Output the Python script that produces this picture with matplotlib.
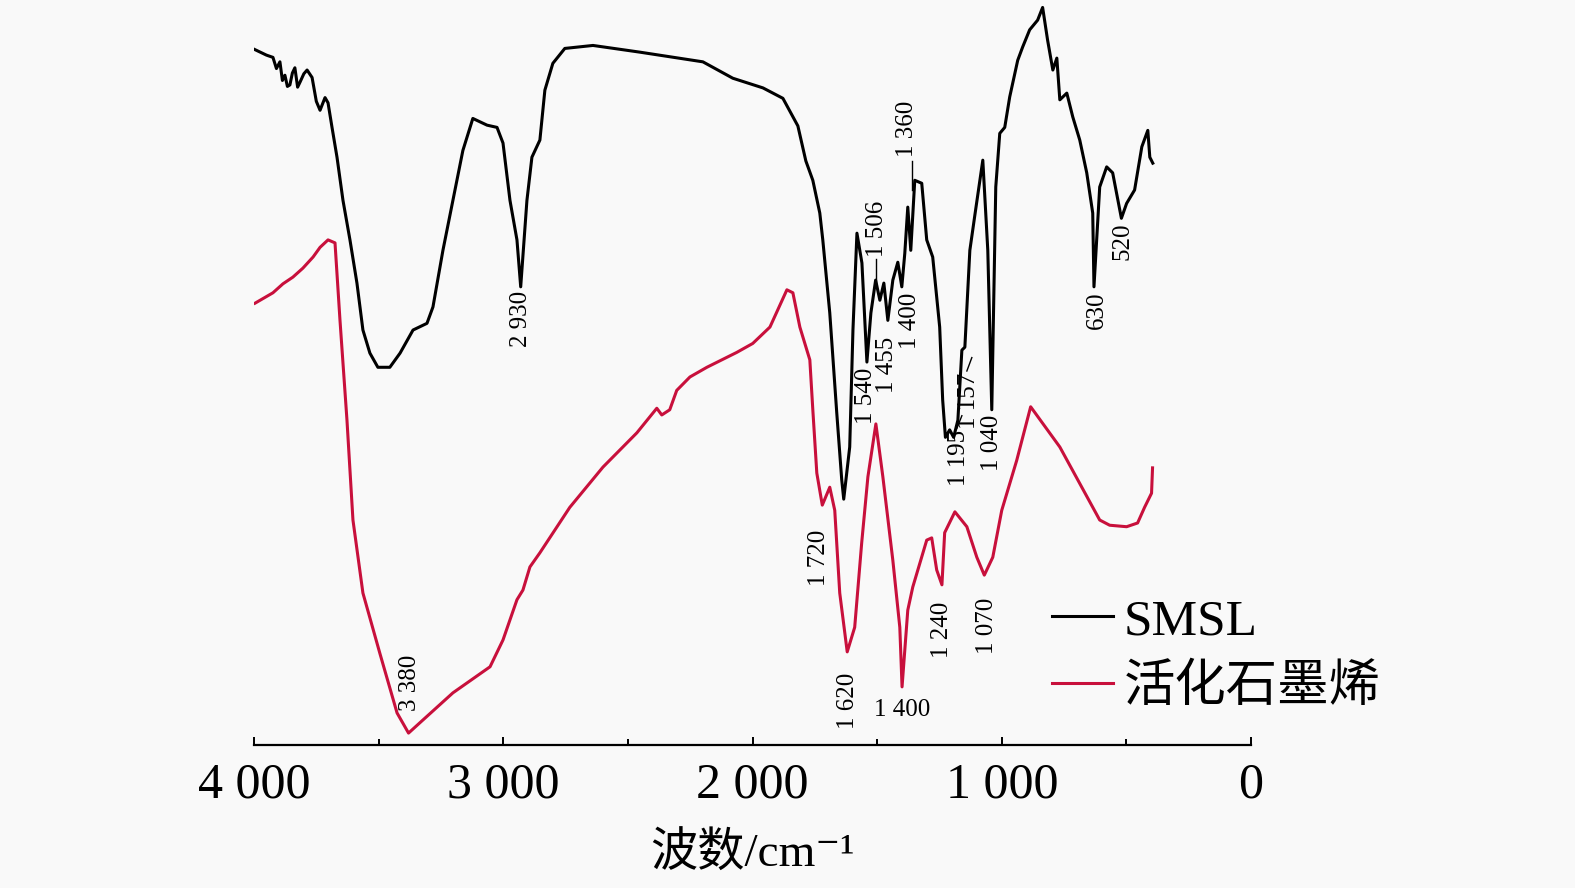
import matplotlib
matplotlib.use('Agg')
import matplotlib.pyplot as plt
from matplotlib.ticker import FuncFormatter, MultipleLocator

# SMSL spectrum: wavenumber (cm-1) and transmittance (a.u.)
smsl_wn = [4000, 3950, 3924, 3910, 3896, 3886, 3876, 3866, 3856, 3846,
           3836, 3825, 3815, 3800, 3787, 3767, 3750, 3735, 3715, 3703,
           3687, 3667, 3643, 3615, 3587, 3563, 3535, 3503,
           3455, 3414, 3362, 3306, 3282, 3242, 3202, 3162, 3122, 3065,
           3025, 3001, 2973, 2945, 2930, 2905, 2885, 2853, 2833, 2801,
           2753, 2640, 2452, 2199, 2079, 1958, 1878, 1818, 1786, 1758,
           1730, 1718, 1690, 1662, 1642, 1634, 1610, 1597, 1581, 1561,
           1541, 1525, 1506, 1489, 1473, 1457, 1437, 1417, 1401, 1389,
           1377, 1365, 1349, 1321, 1301, 1277, 1249, 1237, 1226, 1209,
           1193, 1176, 1160, 1148, 1128, 1108, 1076, 1056, 1040, 1024,
           1008, 988, 968, 936, 916, 888, 856, 836, 816, 795,
           779, 767, 739, 715, 687, 659, 635, 630, 607, 579,
           555, 520, 499, 467, 438, 414, 406, 394]
smsl_t = [93.4, 92.6, 92.3, 90.8, 91.7, 89.2, 89.9, 88.4, 88.6, 90.2,
          90.9, 88.3, 89.0, 90.1, 90.6, 89.6, 86.4, 85.2, 86.9, 86.2,
          82.9, 78.9, 73.1, 67.8, 62.0, 55.7, 52.6, 50.7,
          50.7, 52.6, 55.7, 56.6, 58.8, 66.4, 73.1, 79.8, 84.1, 83.2,
          82.9, 80.8, 73.1, 67.8, 61.5, 73.1, 78.9, 81.2, 87.9, 91.5,
          93.5, 93.9, 93.0, 91.7, 89.5, 88.2, 86.8, 83.1, 78.4, 75.8,
          71.4, 67.8, 58.0, 44.6, 35.6, 33.0, 40.0, 55.7, 68.7, 64.7,
          51.4, 58.0, 62.4, 59.7, 62.0, 57.0, 62.4, 64.8, 61.5, 66.0,
          72.2, 66.4, 75.8, 75.4, 67.8, 65.5, 56.1, 46.3, 41.3, 42.3,
          41.3, 43.6, 53.0, 53.4, 66.4, 71.1, 78.5, 66.4, 45.0, 74.9,
          82.1, 82.9, 87.0, 91.9, 93.7, 96.0, 97.3, 99.0, 94.6, 90.6,
          92.2, 86.6, 87.5, 84.3, 81.2, 76.8, 71.4, 61.5, 74.9, 77.6,
          76.8, 70.7, 72.7, 74.5, 80.3, 82.5, 78.9, 78.1]

# activated graphene spectrum
gr_wn = [3996, 3960, 3924, 3884, 3844, 3804, 3763, 3735, 3703, 3675,
         3655, 3627, 3603, 3563, 3495, 3426, 3380, 3334, 3202, 3053,
         3001, 2945, 2921, 2893, 2853, 2733, 2600, 2464, 2384, 2364,
         2332, 2304, 2251, 2183, 2063, 1999, 1930, 1862, 1838, 1810,
         1770, 1758, 1742, 1720, 1690, 1670, 1650, 1620, 1590, 1562,
         1537, 1505, 1477, 1437, 1409, 1400, 1377, 1357, 1301, 1281,
         1261, 1240, 1229, 1188, 1140, 1100, 1070, 1036, 1000, 940,
         884, 767, 607, 567, 499, 455, 427, 399, 395]
gr_t = [59.3, 60.0, 60.7, 61.9, 62.8, 64.0, 65.5, 66.8, 67.8, 67.4,
        57.0, 43.6, 30.2, 20.4, 12.3, 4.3, 1.6, 3.0, 7.0, 10.5,
        14.1, 19.5, 20.8, 23.9, 25.8, 31.9, 37.3, 41.9, 45.2, 44.3,
        45.0, 47.6, 49.4, 50.7, 52.7, 53.9, 56.1, 61.1, 60.7, 56.1,
        51.7, 45.0, 36.5, 32.2, 34.6, 31.5, 20.4, 12.5, 15.8, 27.1,
        36.0, 43.1, 36.0, 24.8, 15.8, 7.8, 18.1, 21.2, 27.5, 27.8,
        23.5, 21.5, 28.5, 31.3, 29.3, 25.2, 22.8, 25.2, 31.5, 38.2,
        45.4, 40.0, 30.2, 29.5, 29.3, 29.8, 31.9, 33.8, 37.2]

# peak labels: (text, x, y, vertical alignment)
smsl_labels = [('2 930', 2930, 60.9, 'top'), ('1 540', 1545, 50.7, 'top'),
               ('1 455', 1461, 54.8, 'top'), ('1 506', 1500, 65.5, 'bottom'),
               ('1 400', 1370, 60.7, 'top'), ('1 360', 1381, 78.9, 'bottom'),
               ('1 195', 1170, 42.3, 'top'), ('1 157', 1132, 49.9, 'top'),
               ('1 040', 1040, 44.3, 'top'), ('630', 618, 60.9, 'top'),
               ('520', 514, 70.1, 'top')]
gr_labels = [('3 380', 3374, 4.5, 'bottom'), ('1 720', 1735, 28.9, 'top'),
             ('1 620', 1618, 9.7, 'top'), ('1 240', 1240, 19.2, 'top'),
             ('1 070', 1060, 19.7, 'top')]

red = '#c8103c'
serif = ['Liberation Serif', 'Noto Sans CJK SC', 'DejaVu Serif']

fig = plt.figure(figsize=(15.75, 8.88), dpi=100, facecolor='#f9f9f9')
ax = fig.add_axes([254/1575, 1 - 745/888, 997/1575, 745/888])
ax.set_facecolor('#f9f9f9')

ax.plot(smsl_wn, smsl_t, color='black', lw=2.2, label='SMSL')
ax.plot(gr_wn, gr_t, color=red, lw=2.2, label='活化石墨烯')

ax.set_xlim(4000, 0)
ax.set_ylim(0, 100)
for s in ['top', 'left', 'right']:
    ax.spines[s].set_visible(False)
ax.spines['bottom'].set_linewidth(1.6)
ax.set_yticks([])
ax.xaxis.set_major_locator(MultipleLocator(1000))
ax.xaxis.set_minor_locator(MultipleLocator(500))
ax.xaxis.set_major_formatter(FuncFormatter(lambda v, p: '{:,}'.format(int(v)).replace(',', ' ')))
ax.tick_params(axis='x', which='major', direction='in', length=6, width=1.4, pad=12)
ax.tick_params(axis='x', which='minor', direction='in', length=4, width=1.4)
for lab in ax.get_xticklabels():
    lab.set_family(serif)
    lab.set_fontsize(36)

ax.set_xlabel('波数/cm⁻¹', family=serif, fontsize=34, labelpad=18)

for txt, x, y, va in smsl_labels + gr_labels:
    ax.text(x, y, txt, rotation=90, ha='center', va=va, fontsize=18, family=serif)
ax.text(1401, 4.7, '1 400', ha='center', va='center', fontsize=18, family=serif)

# short leader lines
ax.plot([1360, 1360], [78.4, 74.5], color='black', lw=1)
ax.plot([1506, 1506], [65.2, 62.0], color='black', lw=1)
ax.plot([1140, 1120], [50.2, 52.0], color='black', lw=1)
ax.plot([1180, 1160], [42.5, 44.2], color='black', lw=1)

leg = ax.legend(loc='upper left', bbox_to_anchor=(0.80, 0.197), frameon=False,
                prop={'family': serif, 'size': 37}, handlelength=1.2,
                handletextpad=0.2, labelspacing=0.37, borderpad=0, borderaxespad=0)

fig.savefig('out.png', dpi=100, facecolor=fig.get_facecolor())
